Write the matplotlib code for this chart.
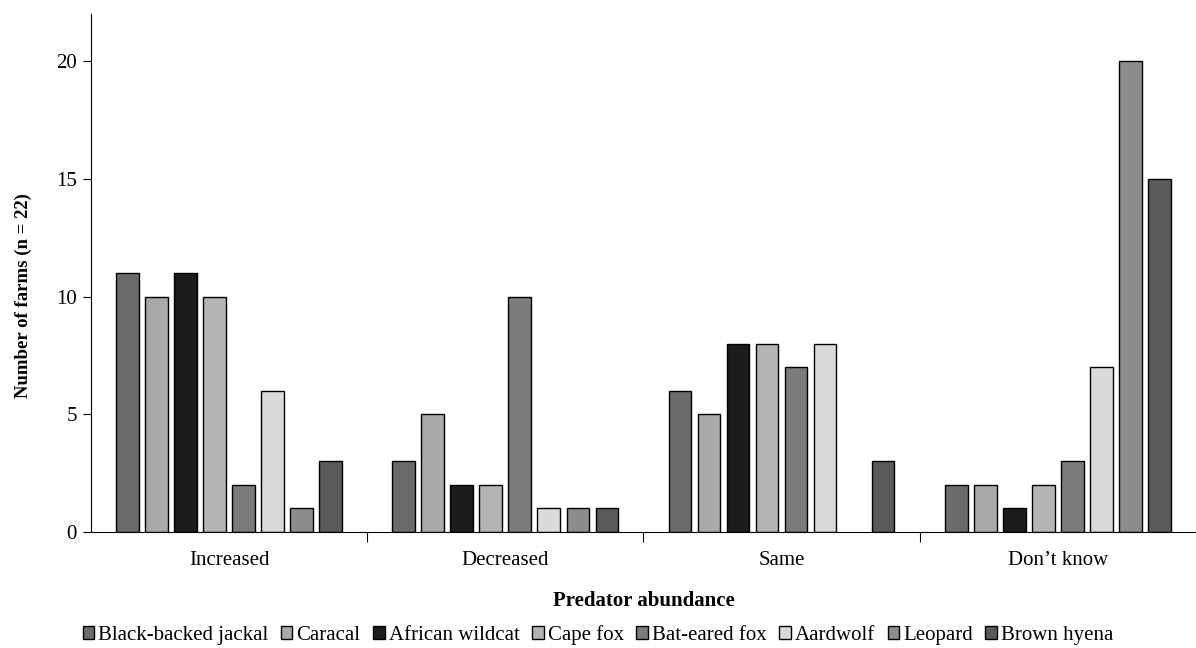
import matplotlib
matplotlib.use("Agg")
import matplotlib.pyplot as plt
import numpy as np

categories = ["Increased", "Decreased", "Same", "Don\u2019t know"]
species = ["Black-backed jackal", "Caracal", "African wildcat", "Cape fox",
           "Bat-eared fox", "Aardwolf", "Leopard", "Brown hyena"]
black_backed_jackal = [11, 3, 6, 2]
caracal = [10, 5, 5, 2]
african_wildcat = [11, 2, 8, 1]
cape_fox = [10, 2, 8, 2]
bat_eared_fox = [2, 10, 7, 3]
aardwolf = [6, 1, 8, 7]
leopard = [1, 1, 0, 20]
brown_hyena = [3, 1, 3, 15]
series = [black_backed_jackal, caracal, african_wildcat, cape_fox,
          bat_eared_fox, aardwolf, leopard, brown_hyena]
colors = ["#6b6b6b", "#a9a9a9", "#1c1c1c", "#b4b4b4",
          "#7c7c7c", "#dadada", "#8c8c8c", "#5a5a5a"]

plt.rcParams['font.family'] = ['Liberation Serif', 'DejaVu Serif']
FS = 15

fig = plt.figure(figsize=(11.96, 6.48), dpi=100)
ax = fig.add_axes([0.076, 0.179, 0.924, 0.799])

n = len(series)
step = 0.105
width = 0.082
x = np.arange(len(categories))
for i, (vals, c, lab) in enumerate(zip(series, colors, species)):
    offs = (i - (n - 1) / 2) * step
    bars = ax.bar(x + offs, vals, width, color=c, edgecolor="black", linewidth=1.0, label=lab)
    for b, v in zip(bars, vals):
        if v == 0:
            b.set_linewidth(0)

ax.set_xlim(-0.5, len(categories) - 0.5)
ax.set_ylim(0, 22)
ax.set_yticks([0, 5, 10, 15, 20])
ax.set_xticks(x)
ax.set_xticklabels(categories)
ax.set_xticks(np.arange(0.5, len(categories) - 0.5, 1), minor=True)
ax.tick_params(axis='x', which='major', length=0, labelsize=FS, pad=14)
ax.tick_params(axis='x', which='minor', length=7, direction='out', width=0.8)
ax.tick_params(axis='y', labelsize=FS, length=6, width=0.8, pad=4)
for s in ["top", "right"]:
    ax.spines[s].set_visible(False)
ax.spines["left"].set_linewidth(0.8)
ax.spines["bottom"].set_linewidth(0.8)

ax.set_ylabel("Number of farms (n = 22)", fontsize=13.5, fontweight="bold")
ax.yaxis.set_label_coords(-0.053, 0.4575)
ax.set_xlabel("Predator abundance", fontsize=FS, fontweight="bold", labelpad=15)

fig.legend(loc="center", bbox_to_anchor=(0.5, 0.02), ncol=8, frameon=False,
           fontsize=FS, handlelength=0.55, handleheight=0.55, handletextpad=0.2,
           columnspacing=0.6, borderpad=0.1)

fig.savefig("out.png", dpi=100)
